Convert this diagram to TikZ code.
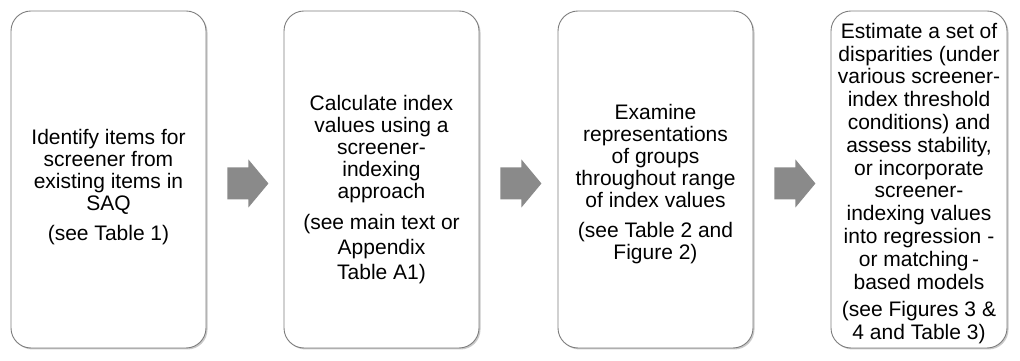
\documentclass[tikz,border=0pt]{standalone}
\usepackage{fontspec}
\setmainfont{Liberation Sans}
\usetikzlibrary{calc,shadows}
\definecolor{arrowgray}{RGB}{138,138,138}
\definecolor{boxline}{RGB}{125,125,125}
\begin{document}
\begin{tikzpicture}[x=1pt,y=1pt,
  stepbox/.style={draw=boxline, line width=0.9pt, fill=white, rounded corners=20pt,
    minimum height=337pt, inner sep=0pt,
    drop shadow={shadow xshift=1.5pt, shadow yshift=-1.5pt, opacity=0.35, fill=black!60}},
  steptext/.style={align=center, inner sep=0pt, font=\fontsize{21}{22}\selectfont},
  blockarrow/.style={fill=arrowgray, draw=none}]
\useasboundingbox (0,0) rectangle (1020,361);
\node[stepbox, minimum width=195pt] (b1) at (108.5,181.5) {};
\node[stepbox, minimum width=195pt] (b2) at (381.5,181.5) {};
\node[stepbox, minimum width=195pt] (b3) at (655.5,181.5) {};
\node[stepbox, minimum width=176pt] (b4) at (919,181.5) {};
\node[steptext] (t1) at ([yshift=-8pt]b1.center) {Identify items for\\screener from\\existing items in\\SAQ\\[8pt](see Table 1)};
\node[steptext] (t2) at ([yshift=-10pt]b2.center) {Calculate index\\values using a\\screener-\\indexing\\approach\\[9pt](see main text or\\[3pt]Appendix\\[3pt]Table A1)};
\node[steptext] (t3) at ([yshift=-5pt]b3.center) {Examine\\representations\\of groups\\throughout range\\of index values\\[8pt](see Table 2 and\\Figure 2)};
\node[steptext, font=\fontsize{21}{22.8}\selectfont] (t4) at ([yshift=-4pt]b4.center) {Estimate a set of\\disparities (under\\various screener-\\index threshold\\conditions) and\\assess stability,\\or incorporate\\screener-\\indexing values\\into regression -\\or matching\,-\\based models\\[5pt](see Figures 3 \&\\4 and Table 3)};
\foreach \a/\b in {b1/b2,b2/b3,b3/b4}{
  \coordinate (s) at ([xshift=21pt,yshift=-4pt]\a.east);
  \fill[blockarrow] ($(s)+(0,16)$) -- ($(s)+(21,16)$) -- ($(s)+(21,24)$) -- ($(s)+(41,0)$)
    -- ($(s)+(21,-24)$) -- ($(s)+(21,-16)$) -- ($(s)+(0,-16)$) -- cycle;
}
\end{tikzpicture}
\end{document}
